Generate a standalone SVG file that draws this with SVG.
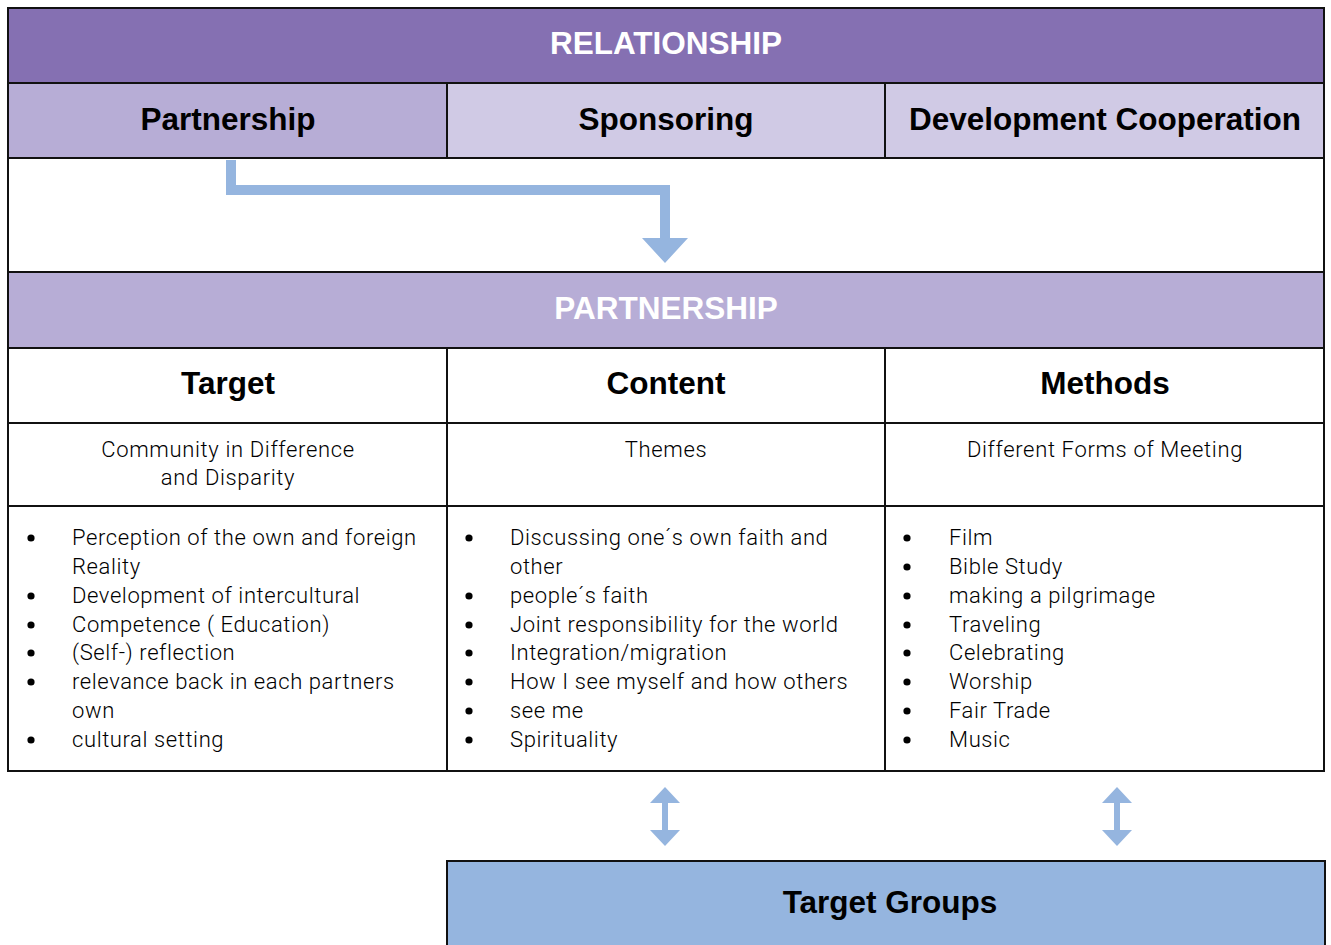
<svg xmlns="http://www.w3.org/2000/svg" width="1331" height="945" viewBox="0 0 1331 945">
<style>
.cell{stroke:#111;stroke-width:2}
.h{font-family:"Liberation Sans",Arial,sans-serif;font-weight:bold;font-size:31.5px;text-anchor:middle;fill:#000}
.hw{font-family:"Liberation Sans",Arial,sans-serif;font-weight:bold;font-size:31.5px;text-anchor:middle;fill:#fff}
.s{font-family:Roboto,"Liberation Sans",sans-serif;font-weight:300;font-size:22px;letter-spacing:0.65px;text-anchor:middle;fill:#000}
.l{font-family:Roboto,"Liberation Sans",sans-serif;font-weight:300;font-size:22px;letter-spacing:0.6px;fill:#000}
.b{fill:#000}
.arr{fill:#95B5DF}
</style>
<rect width="1331" height="945" fill="#fff"/>
<g id="relationship">
<rect class="cell" x="8" y="8" width="1316" height="75" fill="#8570B2"/>
<text class="hw" x="666" y="54">RELATIONSHIP</text>
</g>
<g id="partnership-tab">
<rect class="cell" x="8" y="83" width="439" height="75" fill="#B7ADD6"/>
<text class="h" x="228" y="130">Partnership</text>
</g>
<g id="sponsoring">
<rect class="cell" x="447" y="83" width="438" height="75" fill="#D0CAE5"/>
<text class="h" x="666" y="130">Sponsoring</text>
</g>
<g id="devcoop">
<rect class="cell" x="885" y="83" width="439" height="75" fill="#D0CAE5"/>
<text class="h" x="1105" y="130">Development Cooperation</text>
</g>
<g id="gap">
<rect class="cell" x="8" y="158" width="1316" height="114" fill="#fff"/>
</g>
<g id="partnership">
<rect class="cell" x="8" y="272" width="1316" height="76" fill="#B7ADD6"/>
<text class="hw" x="666" y="319">PARTNERSHIP</text>
</g>
<g id="target">
<rect class="cell" x="8" y="348" width="439" height="75" fill="#fff"/>
<text class="h" x="228" y="394">Target</text>
<rect class="cell" x="8" y="423" width="439" height="83" fill="#fff"/>
<text class="s" x="228" y="457">Community in Difference</text>
<text class="s" x="228" y="485">and Disparity</text>
<rect class="cell" x="8" y="506" width="439" height="265" fill="#fff"/>
<g class="b"><circle cx="31" cy="538" r="3.6"/><circle cx="31" cy="596" r="3.6"/><circle cx="31" cy="625" r="3.6"/><circle cx="31" cy="653" r="3.6"/><circle cx="31" cy="682" r="3.6"/><circle cx="31" cy="740" r="3.6"/></g>
<text class="l" x="72" y="545">Perception of the own and foreign</text>
<text class="l" x="72" y="574">Reality</text>
<text class="l" x="72" y="603">Development of intercultural</text>
<text class="l" x="72" y="632">Competence ( Education)</text>
<text class="l" x="72" y="660">(Self-) reflection</text>
<text class="l" x="72" y="689">relevance back in each partners</text>
<text class="l" x="72" y="718">own</text>
<text class="l" x="72" y="747">cultural setting</text>
</g>
<g id="content">
<rect class="cell" x="447" y="348" width="438" height="75" fill="#fff"/>
<text class="h" x="666" y="394">Content</text>
<rect class="cell" x="447" y="423" width="438" height="83" fill="#fff"/>
<text class="s" x="666" y="457">Themes</text>
<rect class="cell" x="447" y="506" width="438" height="265" fill="#fff"/>
<g class="b"><circle cx="469" cy="538" r="3.6"/><circle cx="469" cy="596" r="3.6"/><circle cx="469" cy="625" r="3.6"/><circle cx="469" cy="653" r="3.6"/><circle cx="469" cy="682" r="3.6"/><circle cx="469" cy="711" r="3.6"/><circle cx="469" cy="740" r="3.6"/></g>
<text class="l" x="510" y="545">Discussing one´s own faith and</text>
<text class="l" x="510" y="574">other</text>
<text class="l" x="510" y="603">people´s faith</text>
<text class="l" x="510" y="632">Joint responsibility for the world</text>
<text class="l" x="510" y="660">Integration/migration</text>
<text class="l" x="510" y="689">How I see myself and how others</text>
<text class="l" x="510" y="718">see me</text>
<text class="l" x="510" y="747">Spirituality</text>
</g>
<g id="methods">
<rect class="cell" x="885" y="348" width="439" height="75" fill="#fff"/>
<text class="h" x="1105" y="394">Methods</text>
<rect class="cell" x="885" y="423" width="439" height="83" fill="#fff"/>
<text class="s" x="1105" y="457">Different Forms of Meeting</text>
<rect class="cell" x="885" y="506" width="439" height="265" fill="#fff"/>
<g class="b"><circle cx="907" cy="538" r="3.6"/><circle cx="907" cy="567" r="3.6"/><circle cx="907" cy="596" r="3.6"/><circle cx="907" cy="625" r="3.6"/><circle cx="907" cy="653" r="3.6"/><circle cx="907" cy="682" r="3.6"/><circle cx="907" cy="711" r="3.6"/><circle cx="907" cy="740" r="3.6"/></g>
<text class="l" x="949" y="545">Film</text>
<text class="l" x="949" y="574">Bible Study</text>
<text class="l" x="949" y="603">making a pilgrimage</text>
<text class="l" x="949" y="632">Traveling</text>
<text class="l" x="949" y="660">Celebrating</text>
<text class="l" x="949" y="689">Worship</text>
<text class="l" x="949" y="718">Fair Trade</text>
<text class="l" x="949" y="747">Music</text>
</g>
<g id="target-groups">
<rect class="cell" x="447" y="861" width="878" height="90" fill="#95B5DF"/>
<text class="h" x="890" y="913">Target Groups</text>
</g>
<g id="connectors">
<polygon class="arr" points="226,160 236,160 236,185 670,185 670,238 688,238 665,263 642,238 660,238 660,195 226,195"/>
<polygon class="arr" points="665,787 680,803 668,803 668,830 680,830 665,846 650,830 662,830 662,803 650,803"/>
<polygon class="arr" points="1117,787 1132,803 1120,803 1120,830 1132,830 1117,846 1102,830 1114,830 1114,803 1102,803"/>
</g>
</svg>
